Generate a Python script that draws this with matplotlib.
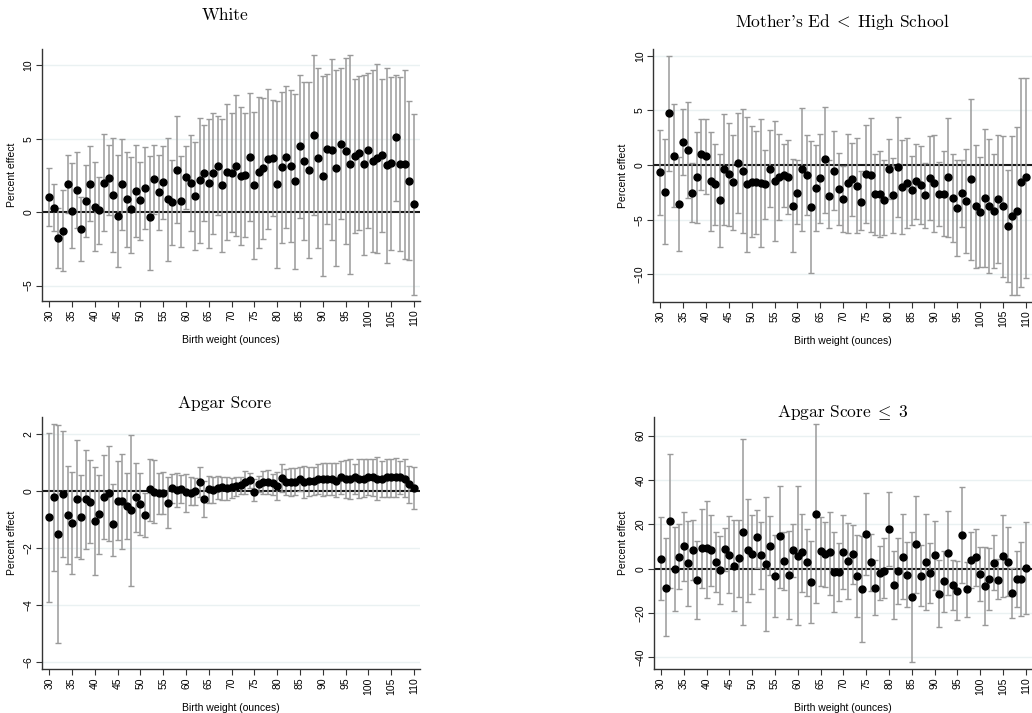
import numpy as np
import matplotlib
matplotlib.use('Agg')
import matplotlib.pyplot as plt

plt.rcParams['font.family'] = ['Liberation Sans', 'DejaVu Sans']
plt.rcParams['mathtext.fontset'] = 'cm'

# birth weight bins (ounces)
weight = list(range(30, 111))

# --- White ---
white_est = [1.05, 0.27, -1.77, -1.27, 1.89, 0.09, 1.5, -1.16, 0.77, 1.93,
             0.36, 0.11, 2.0, 2.3, 1.14, -0.27, 1.93, 0.89, 0.18, 1.45,
             0.84, 1.66, -0.36, 2.25, 1.36, 2.02, 0.86, 0.68, 2.89, 0.73,
             2.36, 2.0, 1.09, 2.16, 2.64, 1.95, 2.64, 3.14, 1.82, 2.73,
             2.68, 3.16, 2.45, 2.55, 3.73, 1.82, 2.75, 2.98, 3.61, 3.66,
             1.89, 3.05, 3.73, 3.16, 2.09, 4.48, 3.48, 2.86, 5.25, 3.7,
             2.48, 4.3, 4.25, 3.0, 4.66, 4.18, 3.25, 3.82, 4.02, 3.25,
             4.2, 3.45, 3.66, 3.86, 3.18, 3.34, 5.09, 3.3, 3.3, 2.14, 0.57]
white_lo = [-0.93, -1.27, -3.8, -4.02, -0.07, -2.45, -1.09, -3.36, -1.66, -0.59,
            -2.64, -2.14, -1.27, -0.18, -2.73, -3.75, -1.2, -2.34, -2.8, -1.66,
            -1.91, -1.16, -3.93, -0.14, -1.2, -0.48, -3.3, -2.23, -0.75, -2.39,
            0.24, -1.3, -2.6, -2.07, -0.6, -2.45, -1.5, -0.23, -2.68, -1.93,
            -1.36, -1.64, -2.25, -1.66, -0.61, -3.18, -2.41, -1.82, -1.18, -0.27,
            -3.82, -2.09, -1.09, -2.0, -3.86, -0.43, -1.89, -3.11, -0.18, -2.45,
            -4.36, -0.8, -1.89, -3.68, -0.48, -2.16, -4.23, -1.43, -1.23, -2.9,
            -1.09, -2.68, -2.8, -1.32, -3.43, -2.57, 0.77, -2.64, -3.18, -3.25, -5.64]
white_hi = [3.02, 1.91, 0.25, 1.5, 3.86, 3.34, 4.09, 1.05, 3.18, 4.5,
            3.43, 2.39, 5.3, 4.57, 5.05, 3.89, 4.95, 4.09, 3.77, 4.57,
            3.39, 4.45, 3.82, 4.55, 3.91, 4.5, 5.05, 3.55, 6.52, 3.82,
            4.48, 5.27, 4.8, 6.4, 5.93, 6.36, 6.77, 6.52, 6.32, 7.39,
            6.75, 7.95, 7.14, 6.75, 8.09, 6.8, 7.86, 7.77, 8.41, 7.61,
            7.57, 8.18, 8.57, 8.3, 8.05, 9.36, 8.82, 8.86, 10.68, 9.82,
            9.25, 9.43, 10.39, 9.66, 9.82, 10.5, 10.7, 9.07, 9.25, 9.36,
            9.48, 9.66, 10.09, 9.07, 9.8, 9.2, 9.32, 9.2, 9.7, 7.59, 6.68]

# --- Mother's Ed < High School ---
momed_est = [-0.67, -2.45, 4.77, 0.83, -3.58, 2.11, 1.38, -2.57, -1.13, 0.98,
             0.8, -1.5, -1.77, -3.24, -0.37, -0.86, -1.59, 0.18, -0.52, -1.77,
             -1.53, -1.56, -1.62, -1.77, -0.34, -1.47, -1.07, -0.95, -1.1, -3.73,
             -2.54, -0.4, -0.92, -3.85, -2.11, -1.22, 0.52, -2.84, -0.55, -2.2,
             -3.09, -1.62, -1.31, -1.87, -3.36, -0.8, -0.89, -2.66, -2.66, -3.18,
             -0.4, -2.78, -0.18, -1.99, -1.62, -2.32, -1.5, -1.83, -2.78, -1.19,
             -1.65, -2.63, -2.63, -1.1, -2.97, -3.91, -2.57, -3.27, -1.31, -3.73,
             -4.31, -2.97, -3.73, -4.16, -3.06, -3.76, -5.57, -4.65, -4.16, -1.59, -1.13]
momed_lo = [-4.56, -7.25, -0.52, -3.82, -7.89, -0.92, -3.0, -5.2, -5.29, -2.29,
            -2.66, -6.02, -5.44, -7.49, -5.5, -5.6, -5.9, -4.34, -6.18, -7.92,
            -6.57, -6.27, -7.52, -4.89, -3.88, -6.97, -4.98, -3.82, -4.46, -7.98,
            -5.41, -6.06, -4.59, -9.91, -6.06, -5.29, -4.34, -5.75, -4.13, -5.5,
            -6.12, -6.18, -4.68, -6.18, -5.9, -5.26, -6.15, -6.36, -6.57, -6.39,
            -3.12, -6.18, -4.77, -6.27, -5.72, -5.44, -4.89, -5.38, -5.72, -5.05,
            -6.09, -5.54, -6.48, -6.54, -7.06, -8.32, -5.63, -8.04, -8.68, -9.39,
            -9.33, -9.3, -9.88, -9.42, -8.93, -10.24, -10.73, -11.93, -11.87, -11.16, -10.31]
momed_hi = [3.24, 2.35, 10.0, 5.57, 0.73, 5.1, 5.81, 0.15, 3.06, 4.22,
            4.25, 3.06, 1.9, 0.98, 4.68, 3.85, 2.72, 4.77, 5.14, 4.37,
            3.58, 3.09, 4.25, 1.35, 3.21, 4.04, 2.84, 1.96, 2.29, 0.52,
            0.43, 5.26, 2.78, 2.17, 1.8, 2.87, 5.35, 0.46, 3.09, 1.13,
            -0.09, 2.87, 2.05, 2.51, -0.55, 3.7, 4.34, 1.04, 1.28, 0.46,
            2.35, 0.61, 4.43, 2.29, 2.48, 0.83, 1.93, 1.71, 0.21, 2.63,
            2.78, 0.31, 1.25, 4.31, 1.04, 0.46, 0.43, 1.5, 6.02, 1.8,
            0.7, 3.3, 2.39, 1.04, 2.78, 2.69, -0.43, 2.63, 3.52, 8.01, 8.01]

# --- Apgar Score ---
apgar_est = [-0.93, -0.22, -1.51, -0.11, -0.84, -1.12, -0.29, -0.9, -0.29, -0.39,
             -1.05, -0.82, -0.23, -0.08, -1.17, -0.34, -0.36, -0.53, -0.68, -0.23,
             -0.47, -0.84, 0.05, -0.04, -0.09, -0.08, -0.41, 0.09, 0.04, 0.08,
             -0.05, -0.06, -0.02, 0.3, -0.29, 0.07, 0.02, 0.11, 0.12, 0.09,
             0.12, 0.16, 0.2, 0.3, 0.37, -0.04, 0.23, 0.32, 0.32, 0.26,
             0.16, 0.44, 0.32, 0.32, 0.32, 0.42, 0.32, 0.34, 0.35, 0.43,
             0.4, 0.4, 0.41, 0.35, 0.48, 0.42, 0.4, 0.47, 0.42, 0.42,
             0.5, 0.47, 0.41, 0.4, 0.47, 0.47, 0.47, 0.47, 0.43, 0.25, 0.09]
apgar_lo = [-3.91, -2.8, -5.33, -2.31, -2.57, -2.9, -2.32, -2.37, -2.03, -1.81,
            -2.94, -2.2, -1.68, -1.75, -2.28, -1.73, -2.03, -1.67, -3.32, -1.43,
            -1.53, -1.62, -1.05, -1.11, -0.82, -0.82, -1.3, -0.43, -0.58, -0.43,
            -0.75, -0.51, -0.49, -0.2, -0.92, -0.41, -0.44, -0.29, -0.32, -0.32,
            -0.26, -0.18, -0.12, -0.11, 0.09, -0.36, -0.05, -0.11, -0.12, -0.14,
            -0.33, -0.05, -0.15, -0.18, -0.15, 0.0, -0.26, -0.18, -0.15, -0.12,
            -0.18, -0.14, -0.15, -0.22, -0.11, -0.26, -0.28, -0.12, -0.26, -0.23,
            -0.14, -0.18, -0.33, -0.23, -0.2, -0.23, -0.22, -0.12, -0.2, -0.41, -0.64]
apgar_hi = [2.02, 2.36, 2.3, 2.11, 0.88, 0.65, 1.78, 0.57, 1.45, 1.07,
            0.84, 0.56, 1.24, 1.59, 0.23, 1.03, 1.29, 0.61, 1.96, 0.96,
            0.63, -0.06, 1.11, 1.07, 0.64, 0.65, 0.48, 0.58, 0.61, 0.56,
            0.58, 0.48, 0.44, 0.82, 0.33, 0.53, 0.5, 0.53, 0.47, 0.5,
            0.44, 0.5, 0.47, 0.7, 0.62, 0.41, 0.53, 0.7, 0.72, 0.58,
            0.65, 0.93, 0.76, 0.79, 0.79, 0.85, 0.88, 0.82, 0.85, 0.93,
            0.97, 0.97, 0.99, 0.96, 1.03, 1.09, 1.11, 0.93, 1.12, 1.12,
            1.12, 1.12, 1.17, 1.06, 1.11, 1.13, 1.14, 1.06, 1.11, 0.88, 0.83]

# --- Apgar Score <= 3 ---
apgar3_est = [4.5, -8.6, 21.5, -0.15, 5.4, 10.2, 2.55, 8.4, -5.1, 9.2,
              9.2, 8.3, 3.2, -0.6, 8.7, 6.2, 1.35, 4.65, 16.7, 8.3,
              6.6, 14.3, 6.0, 2.1, 10.4, -3.3, 14.6, 3.45, -2.85, 8.4,
              5.7, 7.4, 2.85, -5.9, 24.9, 8.0, 6.6, 7.5, -1.5, -1.5,
              7.7, 3.45, 6.5, -3.45, -9.2, 15.8, 3.15, -8.6, -2.1, -1.05,
              17.9, -7.4, -0.9, 5.4, -2.85, -12.8, 11.0, -3.15, 3.0, -1.95,
              6.0, -11.3, -5.7, 7.2, -7.5, -9.9, 15.3, -9.3, 3.9, 5.4,
              -2.55, -7.7, -4.8, 2.7, -4.95, 5.7, 3.15, -11.1, -4.65, -4.65, 0.45]
apgar3_lo = [-14.3, -30.6, -8.6, -18.9, -9.3, -5.4, -16.7, -5.3, -22.8, -8.9,
             -13.1, -8.0, -10.5, -15.9, -0.9, -11.1, -19.1, -12.6, -25.4, -14.9,
             -11.3, 0.5, -9.3, -28.1, -3.0, -21.9, -8.6, -9.6, -22.7, -3.9,
             -25.5, -10.5, -12.2, -24.5, -15.6, -7.7, -8.1, -11.9, -19.7, -14.6,
             -9.0, -13.7, -7.1, -21.9, -33.2, -2.85, -10.1, -20.9, -14.3, -13.1,
             1.35, -22.7, -15.8, -13.7, -17.4, -42.2, -11.1, -16.8, -18.5, -15.3,
             -9.6, -26.3, -19.4, -12.0, -18.8, -23.3, -6.3, -21.8, -8.6, -7.8,
             -14.4, -25.4, -18.8, -9.6, -13.7, -12.6, -12.3, -22.4, -17.4, -21.3, -20.6]
apgar3_hi = [23.4, 14.0, 51.7, 18.9, 20.3, 25.7, 21.6, 21.8, 12.6, 27.0,
             30.6, 24.3, 16.7, 14.9, 18.2, 23.7, 21.9, 21.9, 58.7, 31.5,
             24.3, 26.6, 21.2, 32.3, 23.6, 15.3, 37.4, 16.4, 17.0, 20.3,
             37.1, 24.9, 17.7, 12.5, 65.5, 23.4, 21.0, 25.7, 16.4, 11.4,
             24.3, 20.7, 19.8, 15.0, 14.6, 34.2, 15.8, 3.75, 10.1, 14.0,
             34.4, 8.1, 14.0, 24.5, 11.9, 16.7, 33.0, 10.5, 24.5, 11.4,
             21.6, 4.05, 7.8, 26.1, 3.75, 3.6, 36.9, 3.15, 16.7, 18.0,
             9.6, 9.8, 9.2, 15.0, 4.35, 24.2, 18.6, 0.15, 8.1, 11.9, 21.2]


def draw_panel(fig, rect, est, lo, hi, ylim, yticks):
    ax = fig.add_axes(rect)
    est = np.array(est)
    lo = np.array(lo)
    hi = np.array(hi)
    for t in yticks:
        if t != 0:
            ax.axhline(t, color='#eaf1f2', lw=1, zorder=0)
    ax.axhline(0, color='#1a1a1a', lw=1.5, zorder=1)
    ax.errorbar(weight, est, yerr=[est - lo, hi - est], fmt='none',
                ecolor='#9a9a9a', elinewidth=1.1, capsize=2.5, capthick=1, zorder=2)
    ax.plot(weight, est, 'o', color='black', ms=5, zorder=3)
    ax.set_xlim(28.4, 111.35)
    ax.set_ylim(*ylim)
    ax.set_xticks(range(30, 111, 5))
    ax.set_yticks(yticks)
    for s in ['top', 'right']:
        ax.spines[s].set_visible(False)
    for s in ['left', 'bottom']:
        ax.spines[s].set_color('#333333')
        ax.spines[s].set_linewidth(1)
    ax.tick_params(axis='both', labelsize=7.5, length=4, width=0.8, color='#333333', pad=2)
    plt.setp(ax.get_xticklabels(), rotation=90)
    plt.setp(ax.get_yticklabels(), rotation=90, va='center')
    ax.set_ylabel('Percent effect', fontsize=7.5, labelpad=5)
    ax.set_xlabel('Birth weight (ounces)', fontsize=7.5, labelpad=6)
    return ax


fig = plt.figure(figsize=(10.32, 7.13), dpi=100)

draw_panel(fig, [0.0407, 0.5778, 0.3663, 0.3535], white_est, white_lo, white_hi,
           (-6.05, 11.1), [-5, 0, 5, 10])
draw_panel(fig, [0.6328, 0.5769, 0.3672, 0.3540], momed_est, momed_lo, momed_hi,
           (-12.5, 10.6), [-10, -5, 0, 5, 10])
draw_panel(fig, [0.0407, 0.0613, 0.3663, 0.3543], apgar_est, apgar_lo, apgar_hi,
           (-6.25, 2.6), [-6, -4, -2, 0, 2])
draw_panel(fig, [0.6334, 0.0613, 0.3666, 0.3543], apgar3_est, apgar3_lo, apgar3_hi,
           (-45.4, 68.6), [-40, -20, 0, 20, 40, 60])

title_kw = dict(fontsize=12.5, family='cmr10', ha='center', va='center')
fig.text(0.218, 0.979, 'White', **title_kw)
fig.text(0.816, 0.969, r"Mother's Ed$\;<\;$High School", **title_kw)
fig.text(0.218, 0.435, 'Apgar Score', **title_kw)
fig.text(0.816, 0.421, r'Apgar Score$\;\leq\;$3', **title_kw)

fig.savefig('out.png', dpi=100)
